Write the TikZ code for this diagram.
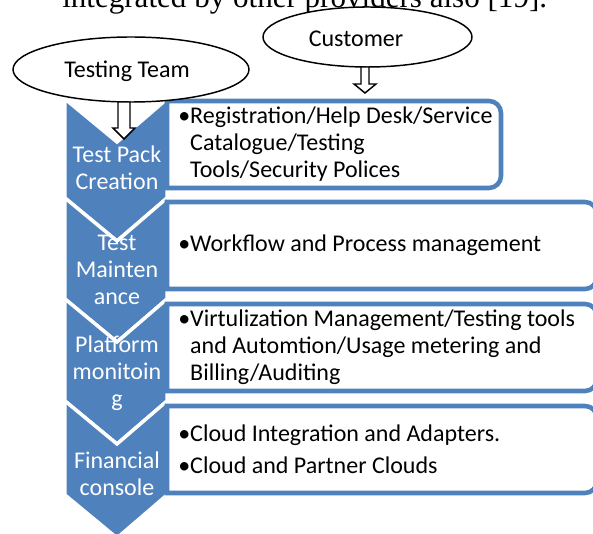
\documentclass[tikz,border=0pt]{standalone}
\usepackage{fontspec}
\setmainfont{Carlito}
\newfontfamily\serifx{Liberation Serif}
\usetikzlibrary{shapes.geometric}
\definecolor{ofblue}{HTML}{4F81BD}
\begin{document}
\begin{tikzpicture}[x=0.75pt,y=-0.75pt,
  chev/.style={fill=ofblue, draw=white, line width=2.6pt, line join=miter},
  listbox/.style={draw=ofblue, fill=white, line width=3.4pt},
  chevlabel/.style={text=white, align=center, font=\fontsize{18}{20.25}\selectfont, inner sep=0pt},
  boxtext/.style={align=left, anchor=west, font=\fontsize{18}{20.25}\selectfont, inner sep=0pt},
  actor/.style={ellipse, draw=black, fill=white, line width=1.1pt, inner sep=0pt},
  actortext/.style={font=\fontsize{18}{20.25}\selectfont, inner sep=0pt},
  blockarrow/.style={draw=black, fill=white, line width=1.1pt, line join=miter}]
\useasboundingbox (0,0) rectangle (593,534);
\begin{scope}
\clip (0,0) rectangle (593,534);
% caption fragment
\node[anchor=base west, inner sep=0pt, font=\serifx\fontsize{23.3}{28}\selectfont] (cap) at (62,8) {integrated by other providers also [19].};
% chevrons
\foreach \t/\h in {99/99, 198/101, 299/102, 401/94} {
  \filldraw[chev] (65,\t) -- (117,{\t+43}) -- (167,\t) -- (167,{\t+\h}) -- (117,{\t+\h+43}) -- (65,{\t+\h}) -- cycle;
}
% list boxes
\foreach \t/\b/\r in {101/188/501, 202/289/597, 304/391/597, 406/493/597} {
  \draw[listbox] (167,\t) -- ({\r-12},\t) .. controls ({\r-5.4},\t) and (\r,{\t+5.4}) .. (\r,{\t+12})
     -- (\r,{\b-12}) .. controls (\r,{\b-5.4}) and ({\r-5.4},\b) .. ({\r-12},\b) -- (167,\b) -- cycle;
}
% chevron labels
\node[chevlabel] (l1) at (117,168) {Test Pack\\Creation};
\node[chevlabel] (l2) at (117,270) {Test\\Mainten\\ance};
\node[chevlabel] (l3) at (117,373) {Platform\\monitoin\\g};
\node[chevlabel] (l4) at (117,474) {Financial\\console};
% box texts
\node[boxtext] (t1) at (178,144.5) {•Registration/Help Desk/Service\\\phantom{•}Catalogue/Testing\\\phantom{•}Tools/Security Polices};
\node[boxtext] (t2) at (178,245) {•Workflow and Process management};
\node[boxtext] (t3) at (178,347.5) {•Virtulization Management/Testing tools\\\phantom{•}and Automtion/Usage metering and\\\phantom{•}Billing/Auditing};
\node[boxtext] (t4) at (178,449.5) {•Cloud Integration and Adapters.\\[3.75pt]•Cloud and Partner Clouds};
% actors
\node[actor, minimum width=177pt, minimum height=48.75pt] (tt) at (131,69.5) {};
\node[actortext] (ttl) at (127,71) {Testing Team};
\node[actor, minimum width=156.75pt, minimum height=45pt] (cu) at (367.5,37) {};
\node[actortext] (cul) at (356,39) {Customer};
% block arrows
\filldraw[blockarrow] (118,102) -- (118,128) -- (113,128) -- (124,139) -- (135,128) -- (130,128) -- (130,102) -- cycle;
\filldraw[blockarrow] (361,67) -- (361,84) -- (354,84) -- (365,93) -- (376,84) -- (369,84) -- (369,67) -- cycle;
\end{scope}
\end{tikzpicture}
\end{document}
